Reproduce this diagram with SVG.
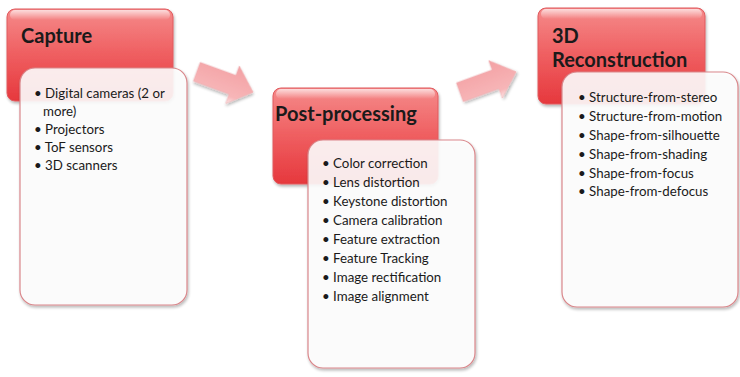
<svg xmlns="http://www.w3.org/2000/svg" width="740" height="377" viewBox="0 0 740 377">
<defs>
<linearGradient id="redG" x1="0" y1="0" x2="0" y2="1">
<stop offset="0" stop-color="#f58a8a"/>
<stop offset="0.5" stop-color="#ef5e60"/>
<stop offset="1" stop-color="#e6383d"/>
</linearGradient>
<linearGradient id="glossG" x1="0" y1="0" x2="0" y2="1">
<stop offset="0" stop-color="#ffffff" stop-opacity="0.7"/>
<stop offset="1" stop-color="#ffffff" stop-opacity="0"/>
</linearGradient>
<linearGradient id="arrowG" x1="0" y1="0" x2="0" y2="1">
<stop offset="0" stop-color="#f3a0a3"/>
<stop offset="0.8" stop-color="#f7b6b8"/>
<stop offset="1" stop-color="#fde8e8"/>
</linearGradient>
<filter id="sh" x="-10%" y="-10%" width="125%" height="125%">
<feGaussianBlur in="SourceAlpha" stdDeviation="1.5"/>
<feOffset dx="1" dy="2" result="b"/>
<feComponentTransfer><feFuncA type="linear" slope="0.3"/></feComponentTransfer>
<feMerge><feMergeNode/><feMergeNode in="SourceGraphic"/></feMerge>
</filter>
</defs>
<style>
.hdr{fill:url(#redG);stroke:#e05a5e;stroke-width:1}
.gloss{fill:url(#glossG)}
.body{fill:#ffffff;fill-opacity:0.88;stroke:#d9878b;stroke-width:1.2}
.ttl{font-family:Lato,"Open Sans",sans-serif;font-weight:bold;font-size:20px;fill:#1a1a1a}
.it{font-family:Lato,"Open Sans",sans-serif;font-size:13.3px;fill:#1a1a1a}
.arr{fill:url(#arrowG);stroke:#f0b0b2;stroke-width:0.6}
</style>
<rect width="740" height="377" fill="#ffffff"/>

<g id="connectors">
<polygon class="arr" filter="url(#sh)" transform="translate(225,82) rotate(20)" points="-30,-10 8,-10 8,-20 30,0 8,20 8,10 -30,10"/>
<polygon class="arr" filter="url(#sh)" transform="translate(488,82) rotate(-20)" points="-30,-10 8,-10 8,-20 30,0 8,20 8,10 -30,10"/>
</g>

<g id="capture">
<rect class="hdr" filter="url(#sh)" x="7" y="9" width="166" height="92" rx="8"/>
<rect class="gloss" x="10" y="10" width="160" height="10" rx="5"/>
<text class="ttl" x="21" y="43">Capture</text>
<rect class="body" filter="url(#sh)" x="20" y="68" width="167" height="237" rx="15"/>
<g class="it">
<text x="34" y="98">• Digital cameras (2 or</text>
<text x="43" y="116">more)</text>
<text x="34" y="134">• Projectors</text>
<text x="34" y="152">• ToF sensors</text>
<text x="34" y="170">• 3D scanners</text>
</g>
</g>

<g id="postprocessing">
<rect class="hdr" filter="url(#sh)" x="273" y="88" width="165" height="96" rx="8"/>
<rect class="gloss" x="276" y="89" width="159" height="10" rx="5"/>
<text class="ttl" x="275" y="121">Post-processing</text>
<rect class="body" filter="url(#sh)" x="308" y="140" width="167" height="228" rx="15"/>
<g class="it">
<text x="322" y="168">• Color correction</text>
<text x="322" y="187">• Lens distortion</text>
<text x="322" y="206">• Keystone distortion</text>
<text x="322" y="225">• Camera calibration</text>
<text x="322" y="244">• Feature extraction</text>
<text x="322" y="263">• Feature Tracking</text>
<text x="322" y="282">• Image rectification</text>
<text x="322" y="301">• Image alignment</text>
</g>
</g>

<g id="reconstruction">
<rect class="hdr" filter="url(#sh)" x="538" y="8" width="167" height="96" rx="8"/>
<rect class="gloss" x="541" y="9" width="161" height="10" rx="5"/>
<text class="ttl" x="552" y="43">3D</text>
<text class="ttl" x="552" y="67">Reconstruction</text>
<rect class="body" filter="url(#sh)" x="562" y="72" width="176" height="235" rx="15"/>
<g class="it">
<text x="578" y="102">• Structure-from-stereo</text>
<text x="578" y="121">• Structure-from-motion</text>
<text x="578" y="140">• Shape-from-silhouette</text>
<text x="578" y="159">• Shape-from-shading</text>
<text x="578" y="178">• Shape-from-focus</text>
<text x="578" y="196">• Shape-from-defocus</text>
</g>
</g>
</svg>
